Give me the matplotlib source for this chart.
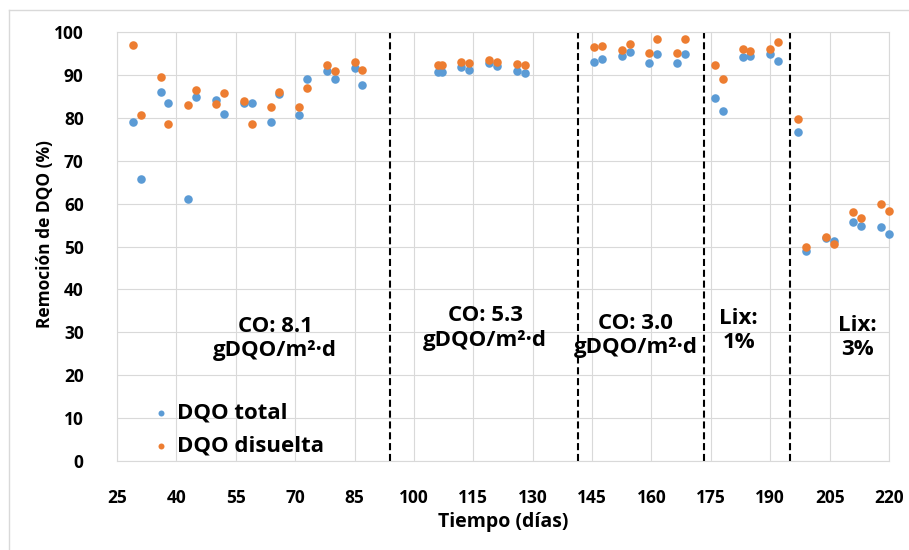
import matplotlib.pyplot as plt
from matplotlib.lines import Line2D

plt.rcParams['font.family'] = ['Open Sans', 'DejaVu Sans']
plt.rcParams['font.weight'] = 'bold'

# Sampling days for each operating stage
dias_co81 = [29, 31, 36, 38, 43, 45, 50, 52, 57, 59, 64, 66, 71, 73, 78, 80, 85, 87]
dias_co53 = [106, 107, 112, 114, 119, 121, 126, 128]
dias_co30 = [145.5, 147.5, 152.5, 154.5, 159.5, 161.5, 166.5, 168.5]
dias_lix1 = [176, 178, 183, 185, 190, 192]
dias_lix3 = [197, 199, 204, 206, 211, 213, 218, 220]

# COD removal (%) - total
dqo_total = [79.0, 65.7, 85.9, 83.4, 61.0, 84.8, 84.1, 81.0, 83.4, 83.4, 79.0, 85.6, 80.6, 89.0, 90.8, 89.1, 91.6, 87.7,
             90.6, 90.6, 91.8, 91.2, 92.7, 92.0, 90.9, 90.4,
             93.0, 93.8, 94.3, 95.3, 92.7, 94.8, 92.7, 94.9,
             84.5, 81.5, 94.1, 94.5, 94.8, 93.3,
             76.6, 48.9, 52.0, 51.3, 55.7, 54.8, 54.5, 52.9]

# COD removal (%) - dissolved
dqo_disuelta = [96.9, 80.6, 89.5, 78.5, 83.0, 86.4, 83.2, 85.8, 84.0, 78.5, 82.6, 85.9, 82.6, 87.0, 92.3, 90.9, 92.9, 91.2,
                92.2, 92.2, 92.9, 92.7, 93.5, 93.0, 92.5, 92.2,
                96.6, 96.8, 95.9, 97.2, 95.2, 98.4, 95.2, 98.4,
                92.4, 89.1, 96.1, 95.5, 96.1, 97.7,
                79.8, 50.0, 52.2, 50.5, 58.1, 56.6, 59.8, 58.2]

dias = dias_co81 + dias_co53 + dias_co30 + dias_lix1 + dias_lix3

# Stage boundaries and stage labels
cambios_etapa = [94, 141.5, 173.3, 195]
etiquetas = ["CO: 8.1\ngDQO/m²·d", "CO: 5.3\ngDQO/m²·d", "CO: 3.0\ngDQO/m²·d", "Lix:\n1%", "Lix:\n3%"]
etiqueta_x = [65, 118, 156, 182, 212]
etiqueta_y = [28.6, 31.0, 29.2, 30.4, 28.8]

azul = "#5B9BD5"
naranja = "#ED7D31"
gris = "#D9D9D9"

fig = plt.figure(figsize=(9.09, 5.5), dpi=100)
ax = fig.add_axes([117 / 909, 1 - 461 / 550, (889 - 117) / 909, (461 - 32) / 550])

ax.scatter(dias, dqo_total, s=38, color=azul, label="DQO total", zorder=3, clip_on=False, linewidths=0)
ax.scatter(dias, dqo_disuelta, s=38, color=naranja, label="DQO disuelta", zorder=3, clip_on=False, linewidths=0)

for xc in cambios_etapa:
    ax.axvline(xc, color="black", linewidth=1.5, linestyle=(0, (3.4, 1.8)), zorder=2)

for txt, xt, yt in zip(etiquetas, etiqueta_x, etiqueta_y):
    ax.text(xt, yt, txt, ha="center", va="center", fontsize=16, fontweight="bold",
            linespacing=1.2, multialignment="center", zorder=4)

ax.set_xlim(25, 220)
ax.set_ylim(0, 100)
ax.set_xticks(range(25, 221, 15))
ax.set_yticks(range(0, 101, 10))
ax.tick_params(axis="both", length=0, labelsize=12.5)
ax.tick_params(axis="y", pad=24)
ax.tick_params(axis="x", pad=20)
ax.grid(True, color=gris, linewidth=0.8, zorder=0)
ax.set_axisbelow(True)
for sp in ax.spines.values():
    sp.set_color(gris)
    sp.set_linewidth(0.8)

ax.set_xlabel("Tiempo (días)", fontsize=14, fontweight="bold")
ax.set_ylabel("Remoción de DQO (%)", fontsize=12.5, fontweight="bold")
ax.xaxis.set_label_coords(0.5, -0.12)
ax.yaxis.set_label_coords(-0.082, 0.53)

ax.legend(loc="upper left", bbox_to_anchor=(0.048, 0.136), frameon=False, fontsize=16,
          markerscale=0.7, handlelength=0.6, handletextpad=0.45, labelspacing=0.55,
          borderaxespad=0, borderpad=0)

# light frame around the chart area
fig.add_artist(Line2D([9 / 909, 9 / 909], [0, 1 - 10 / 550], color=gris, linewidth=1))
fig.add_artist(Line2D([9 / 909, 1], [1 - 10 / 550, 1 - 10 / 550], color=gris, linewidth=1))

plt.savefig("out.png", dpi=100)
